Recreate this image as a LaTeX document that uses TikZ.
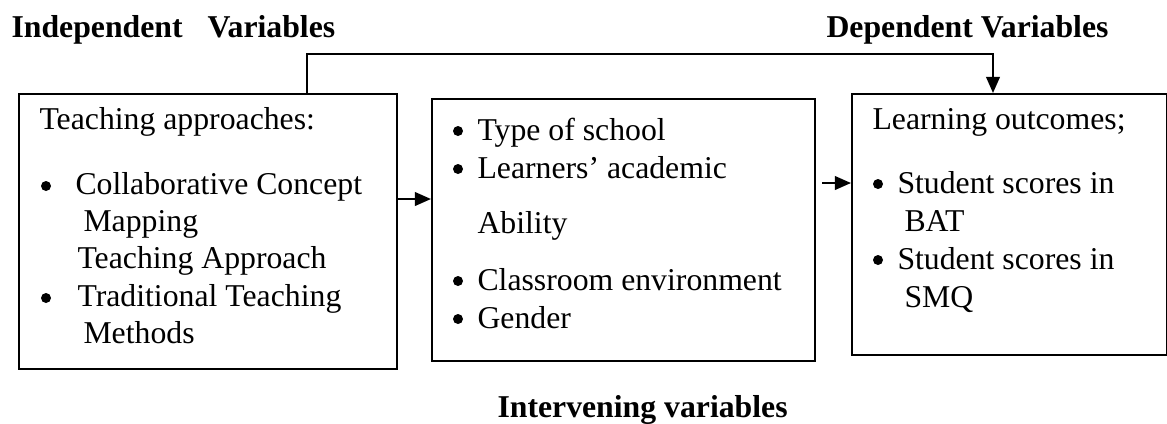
\documentclass[tikz,border=0pt]{standalone}
\usepackage{fontspec}
\setmainfont{Liberation Serif}
\usetikzlibrary{arrows.meta}

\tikzset{
  box/.style={draw,line width=0.8pt,inner sep=0pt,anchor=north west},
  txt/.style={anchor=base west,inner sep=0pt},
  dot/.style={circle,fill,inner sep=0pt,minimum size=4pt},
  head/.style={anchor=base west,inner sep=0pt,font=\fontsize{12.7}{15}\selectfont\bfseries},
  arr/.style={line width=0.8pt,-{Triangle[length=6.5pt,width=5.5pt]}}
}

\begin{document}
\begin{tikzpicture}[x=0.4pt,y=-0.4pt,font=\fontsize{12.7}{15}\selectfont]
        \useasboundingbox (0,0) rectangle (1167,423);

        % headings
        \node[head] (indep) at (11,37) {Independent\hspace*{10pt}Variables};
        \node[head] (dep) at (826,37) {Dependent Variables};
        \node[head] (interv) at (497,417) {Intervening variables};

        % the three boxes
        \node[box,minimum width=151.2pt,minimum height=110pt] (teach) at (18,93) {};
        \node[box,minimum width=153.2pt,minimum height=104.8pt] (inter) at (431,98) {};
        \node[box,minimum width=126pt,minimum height=104.4pt] (outc) at (851,93) {};

        % left box
        \node[txt] (t0) at (39,129) {Teaching approaches:};
        \node[dot] (b1) at (46,186) {};
        \node[txt] (t1) at (75,194) {Collaborative Concept};
        \node[txt] (t2) at (83,231) {Mapping};
        \node[txt] (t3) at (77,268) {Teaching Approach};
        \node[dot] (b2) at (46,298) {};
        \node[txt] (t4) at (77,306) {Traditional Teaching};
        \node[txt] (t5) at (83,343) {Methods};

        % middle box
        \node[dot] (c1) at (458,131) {};
        \node[txt] (m1) at (477,140) {Type of school};
        \node[dot] (c2) at (458,169) {};
        \node[txt] (m2) at (477,178) {Learners’ academic};
        \node[txt] (m3) at (477,233) {Ability};
        \node[dot] (c3) at (458,281) {};
        \node[txt] (m4) at (477,290) {Classroom environment};
        \node[dot] (c4) at (458,319) {};
        \node[txt] (m5) at (477,328) {Gender};

        % right box
        \node[txt] (o0) at (872,129) {Learning outcomes;};
        \node[dot] (d1) at (878,184) {};
        \node[txt] (o1) at (897,193) {Student scores in};
        \node[txt] (o2) at (904,231) {BAT};
        \node[dot] (d2) at (878,260) {};
        \node[txt] (o3) at (897,269) {Student scores in};
        \node[txt] (o4) at (904,307) {SMQ};

        % connectors
        \coordinate (from) at (822,183);
        \draw[arr] (teach.east |- 0,199) -- (inter.west |- 0,199);
        \draw[arr] (from) -- (outc.west |- from);
        \draw[arr] (teach.north -| 307,0) -- (307,54) -- (993,54) -- (outc.north -| 993,0);
      \end{tikzpicture}
\end{document}
